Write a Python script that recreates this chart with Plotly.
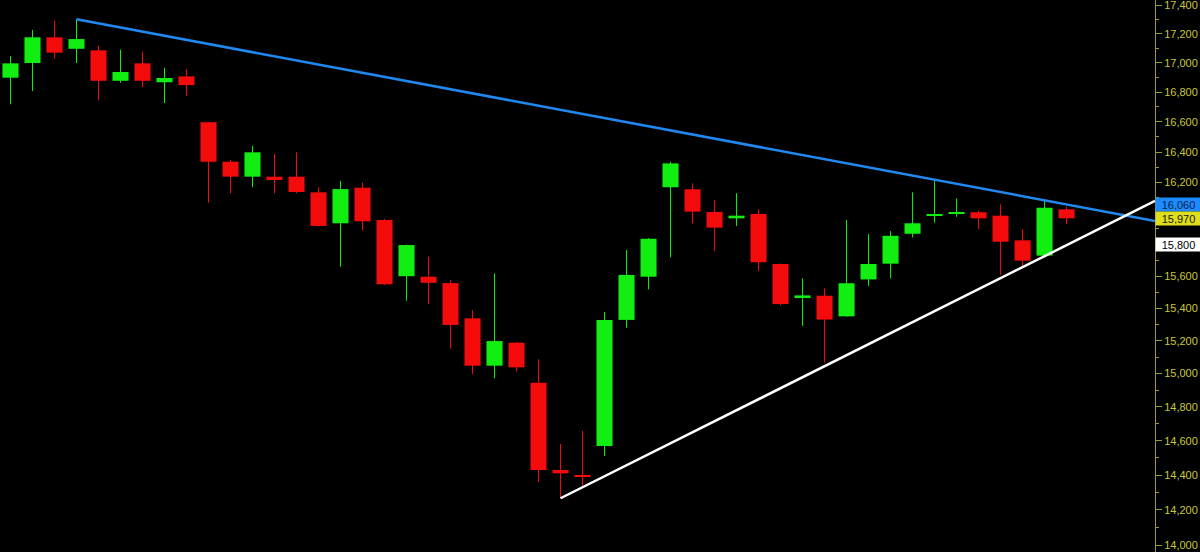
import plotly.graph_objects as go
import math

# OHLC values (one candle per session)
opens = [16898, 16998, 17175, 17096, 17085, 16877, 16996, 16867, 16907, 16598,
         16336, 16238, 16238, 16238, 16136, 15936, 16166, 15957, 15600, 15597,
         15557, 15338, 15048, 15188, 14945, 14429, 14400, 14569, 15328, 15597,
         16169, 16156, 16009, 15968, 15996, 15677, 15470, 15478, 15350, 15580,
         15679, 15869, 15983, 16000, 16007, 15985, 15827, 15730, 16026]
highs = [17046, 17226, 17290, 17300, 17117, 17089, 17076, 16966, 16957, 16600,
         16347, 16440, 16387, 16398, 16169, 16210, 16199, 15964, 15800, 15723,
         15576, 15389, 15618, 15192, 15087, 14581, 14659, 15377, 15766, 15841,
         16336, 16195, 16086, 16130, 16026, 15680, 15587, 15524, 15957, 15867,
         15886, 16136, 16212, 16097, 16017, 16058, 15898, 16082, 16043]
lows = [16718, 16808, 17028, 16998, 16747, 16864, 16834, 16727, 16776, 16069,
        16130, 16169, 16130, 16130, 15915, 15660, 15889, 15545, 15447, 15426,
        15153, 14998, 14972, 15012, 14361, 14266, 14323, 14511, 15280, 15518,
        15719, 15936, 15759, 15919, 15633, 15418, 15291, 15066, 15348, 15539,
        15587, 15846, 15940, 15978, 15898, 15608, 15664, 15725, 15930]
closes = [16996, 17175, 17069, 17163, 16877, 16937, 16877, 16896, 16848, 16336,
          16238, 16398, 16216, 16138, 15919, 16157, 15949, 15549, 15797, 15559,
          15297, 15048, 15198, 15038, 14429, 14410, 14390, 15328, 15608, 15837,
          16325, 16011, 15908, 15985, 15688, 15426, 15480, 15330, 15556, 15677,
          15856, 15936, 15994, 16007, 15968, 15818, 15698, 16036, 15968]

# trend lines: (index, price) anchors
resist_x = [3, 52.02]
resist_y = [17300, 15951]
support_x = [25, 52.02]
support_y = [14266, 16080]

# price tags on the right axis
tag_values = [16060, 15970, 15800]
tag_bg = ["#1a8cff", "#dede1e", "#ffffff"]
tag_fg = ["#10204a", "#202000", "#000000"]

tick_vals = list(range(14000, 17401, 200))
hidden_ticks = [16000, 15800]   # covered by the price tags in the original
tick_text = ["" if v in hidden_ticks else f"{v:,}" for v in tick_vals]
minor_vals = list(range(14100, 17400, 200))

GREEN = "#12ee12"
RED = "#f40c0c"

n = len(opens)
xs = list(range(n))

fig = go.Figure()

for up, col in [(True, GREEN), (False, RED)]:
    idx = [i for i in xs if (closes[i] > opens[i]) == up]
    wx, wy = [], []
    for i in idx:
        wx += [i, i, None]
        wy += [lows[i], highs[i], None]
    fig.add_trace(go.Scatter(x=wx, y=wy, mode="lines",
                             line=dict(color=col, width=1),
                             hoverinfo="skip", showlegend=False))
    fig.add_trace(go.Bar(x=idx,
                         base=[min(opens[i], closes[i]) for i in idx],
                         y=[abs(closes[i] - opens[i]) for i in idx],
                         width=0.73,
                         marker=dict(color=col, line=dict(width=0)),
                         showlegend=False))

fig.add_trace(go.Scatter(x=resist_x, y=resist_y, mode="lines",
                         line=dict(color="#2088f0", width=2.5),
                         showlegend=False, hoverinfo="skip"))
fig.add_trace(go.Scatter(x=support_x, y=support_y, mode="lines",
                         line=dict(color="#ffffff", width=2.5),
                         showlegend=False, hoverinfo="skip"))

annotations = []
for v, bg, fg in zip(tag_values, tag_bg, tag_fg):
    annotations.append(dict(
        x=1, xref="paper", xanchor="left", xshift=0,
        y=math.log10(v), yref="y", yanchor="middle",
        text=f"{v:,}", showarrow=False,
        bgcolor=bg, width=43, height=11, borderpad=1, align="center",
        font=dict(family="Liberation Sans, Arial", size=11, color=fg)))

fig.update_layout(
    width=1200, height=552,
    paper_bgcolor="#000000", plot_bgcolor="#000000",
    margin=dict(l=0, r=45, t=0, b=0, autoexpand=False),
    barmode="overlay",
    showlegend=False,
    xaxis=dict(range=[-0.477, 52.02], visible=False, showgrid=False, zeroline=False),
    yaxis=dict(
        type="log", side="right",
        range=[4.144904, 4.241423],
        showgrid=False, zeroline=False,
        showline=True, linecolor="#9a9a30", linewidth=1,
        tickmode="array", tickvals=tick_vals, ticktext=tick_text,
        ticks="outside", ticklen=6, tickcolor="#9a9a30", tickwidth=1,
        ticklabeloverflow="allow",
        tickfont=dict(family="Liberation Sans, Arial", size=11, color="#c8c83c"),
        minor=dict(tickmode="array", tickvals=minor_vals, ticks="outside",
                   ticklen=3, tickcolor="#9a9a30", tickwidth=1),
    ),
    annotations=annotations,
)

fig.write_html("out.html", config={"displayModeBar": False},
               post_script="document.body.style.margin='0';document.body.style.background='#000';")
